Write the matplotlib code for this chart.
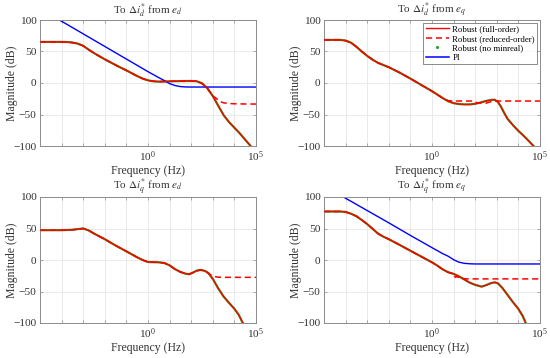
import numpy as np
import matplotlib
matplotlib.use("Agg")
import matplotlib.pyplot as plt
from matplotlib.ticker import FixedLocator, NullFormatter

plt.rcParams['font.family'] = ['Liberation Serif', 'DejaVu Serif']
plt.rcParams['mathtext.fontset'] = 'stix'

# ---- values: log10(f / Hz) and magnitude (dB) ----
# panel 1: to di_d* from e_d
lf_full_dd = [-5, -4, -3.75, -3.5, -3.25, -3, -2.75, -2.5, -2.25, -2, -1.5, -1, -0.75, -0.5, -0.25, 0,
              0.25, 0.5, 1, 1.5, 2, 2.25, 2.5, 2.75, 3, 3.25, 3.5, 3.75, 4, 4.25, 4.5, 4.75]
mag_full_dd = [65.2, 65.2, 65, 64.2, 62.5, 59, 53, 47.5, 42.5, 37.6, 28.5, 20, 15.5, 11, 7, 4.2,
               2.7, 2.2, 2.6, 3, 3.2, 2.8, -0.5, -8.5, -20.7, -36, -51, -62, -71, -80, -90, -100]
lf_red_dd = [3.15, 3.3, 3.5, 3.75, 4, 4.5, 5]          # reduced-order tail
mag_red_dd = [-24, -29, -31.5, -32.5, -33, -33.3, -33.4]
lf_pi_dd = [-4.1, -3, -2, -1, 0, 0.5, 0.75, 1, 1.25, 1.5, 1.75, 2, 5]
mag_pi_dd = [100, 78, 58, 38, 18, 8.5, 4, -1, -4, -5.7, -6.3, -6.4, -6.4]

# panel 2: to di_d* from e_q
lf_full_dq = [-5, -4.25, -4, -3.75, -3.5, -3.25, -3, -2.75, -2.5, -2.25, -2, -1.5, -1, -0.5, 0, 0.25,
              0.5, 0.75, 1, 1.25, 1.5, 1.75, 2, 2.25, 2.5, 2.75, 2.9, 3.05, 3.2, 3.35, 3.5, 3.75,
              4, 4.25, 4.45, 4.7]
mag_full_dq = [68.4, 68.4, 67.3, 64, 57.5, 50, 43, 37, 32, 28.5, 25, 16.5, 7, -3, -13, -18.5,
               -24, -29, -32, -33.5, -34, -34, -33, -31, -28.5, -26.8, -26.5, -30, -38, -48, -57, -67,
               -76, -84, -91, -100]
lf_red_dq = [0.6, 0.75, 1, 1.9, 2.1, 2.5, 2.75, 3, 5]
mag_red_dq = [-26, -28, -28.6, -28.6, -31.5, -32, -29.5, -28.6, -28.6]

# panel 3: to di_q* from e_d
lf_full_qd = [-5, -4, -3.5, -3.25, -3, -2.75, -2.5, -2.25, -2, -1.5, -1, -0.75, -0.5, -0.25, 0, 0.25,
              0.5, 0.75, 1, 1.25, 1.5, 1.75, 1.9, 2.05, 2.25, 2.45, 2.65, 2.8, 3, 3.25, 3.5, 3.75,
              4, 4.2, 4.39]
mag_full_qd = [47.3, 47.3, 48, 49, 50, 47, 42, 37.5, 33, 23, 13.7, 9, 4.2, 0, -3.2, -3.5,
               -3.7, -4.7, -8.5, -14.5, -19, -21.8, -22.6, -20.5, -17, -15.8, -17.5, -21, -30, -45, -58, -68,
               -77.5, -87, -100]
lf_red_qd = [2.9, 3.05, 3.25, 3.5, 5]
mag_red_qd = [-23.5, -26, -27.3, -27.5, -27.5]

# panel 4: to di_q* from e_q
lf_full_qq = [-5, -4.25, -4, -3.75, -3.5, -3.25, -3, -2.75, -2.5, -2.25, -2, -1.5, -1, -0.5, 0, 0.25,
              0.5, 0.75, 1, 1.25, 1.5, 1.75, 2, 2.3, 2.5, 2.75, 2.9, 3.05, 3.25, 3.5, 3.75, 4,
              4.2, 4.34]
mag_full_qq = [77, 77, 76.3, 73.5, 69.5, 63.5, 57, 49.5, 42, 37, 33, 24, 14.7, 5.5, -3.7, -9,
               -15, -19.5, -22, -26, -31, -36, -39.5, -42.3, -40, -36.5, -35.5, -37, -44, -55.5, -67, -77.7,
               -89, -100]
lf_red_qq = [1.05, 1.1, 1.15, 1.3, 1.6, 5]
mag_red_qq = [-26.5, -27.5, -26, -29, -30, -30]
lf_pi_qq = [-4.1, -3, -2, -1, 0, 0.5, 0.75, 1, 1.25, 1.5, 1.75, 2, 5]
mag_pi_qq = [100, 78.5, 59, 39, 19.6, 10, 6, 0.5, -3.5, -5.3, -6, -6.3, -6.3]

titles = [r'To $\Delta i_d^{*}$ from $e_d$', r'To $\Delta i_d^{*}$ from $e_q$',
          r'To $\Delta i_q^{*}$ from $e_d$', r'To $\Delta i_q^{*}$ from $e_q$']

panels = [
    (lf_full_dd, mag_full_dd, lf_red_dd, mag_red_dd, lf_pi_dd, mag_pi_dd),
    (lf_full_dq, mag_full_dq, lf_red_dq, mag_red_dq, None, None),
    (lf_full_qd, mag_full_qd, lf_red_qd, mag_red_qd, None, None),
    (lf_full_qq, mag_full_qq, lf_red_qq, mag_red_qq, lf_pi_qq, mag_pi_qq),
]

fig = plt.figure(figsize=(5.5, 3.58), dpi=100)
boxes = [(40, 20), (324, 20), (40, 197), (324, 197)]
W, H = 550.0, 358.0
green = '#1faa1f'

for k, (lfa, ma, lft, mt, lfp, mp) in enumerate(panels):
    x0, y0 = boxes[k]
    ax = fig.add_axes([x0 / W, 1 - (y0 + 126) / H, 216 / W, 126 / H])
    fa = 10.0 ** np.array(lfa)
    # reduced-order follows the full-order curve until it splits off
    lfr = [v for v in lfa if v < lft[0]] + lft
    mr = [m for v, m in zip(lfa, ma) if v < lft[0]] + mt
    # no-minreal curve sits under the full-order one
    ax.plot(fa, ma, color=green, lw=1.6, zorder=2)
    ax.plot(fa, ma, color='r', lw=1.0, zorder=3, label='Robust (full-order)')
    ax.plot(10.0 ** np.array(lfr), mr, 'r--', lw=1.1, dashes=(4, 2.5), zorder=2.5,
            label='Robust (reduced-order)')
    ax.plot([], [], '.', color=green, ms=2.5, label='Robust (no minreal)')
    if lfp is not None:
        ax.plot(10.0 ** np.array(lfp), mp, color='b', lw=1.0, zorder=2, label='PI')
    else:
        ax.plot([], [], color='b', lw=1.1, label='PI')

    ax.set_xscale('log')
    ax.set_xlim(1e-5, 1e5)
    ax.set_ylim(-100, 100)
    ax.set_yticks([-100, -50, 0, 50, 100])
    ax.set_yticklabels(['\u2212100', '\u221250', '0', '50', '100'])
    ax.xaxis.set_major_locator(FixedLocator([1e0, 1e5]))
    ax.xaxis.set_minor_locator(FixedLocator([10.0 ** i for i in range(-5, 6)]))
    ax.xaxis.set_minor_formatter(NullFormatter())
    ax.grid(True, which='both', color='#e6e6e6', lw=0.6)
    ax.set_axisbelow(True)
    for s in ax.spines.values():
        s.set_color('#8c8c8c')
        s.set_linewidth(0.7)
    ax.tick_params(which='both', direction='in', length=2.5, width=0.5, color='#8c8c8c',
                   labelsize=8.2, labelcolor='#333333', top=True, right=True, pad=2.5)
    ax.set_xlabel('Frequency (Hz)', fontsize=8.5, color='#333333', labelpad=0.5)
    ax.set_ylabel('Magnitude (dB)', fontsize=8.5, color='#333333')
    ax.yaxis.set_label_coords(-22.0 / 216, 0.5)
    ax.set_title(titles[k], fontsize=8, color='#333333', pad=2)
    if k == 1:
        leg = ax.legend(loc='upper right', fontsize=6.3, handlelength=2.6, fancybox=False,
                        borderpad=0.3, labelspacing=0.15, handletextpad=0.4,
                        borderaxespad=0.3)
        leg.get_frame().set_edgecolor('#555555')
        leg.get_frame().set_linewidth(0.6)

fig.savefig('out.png', dpi=100)
